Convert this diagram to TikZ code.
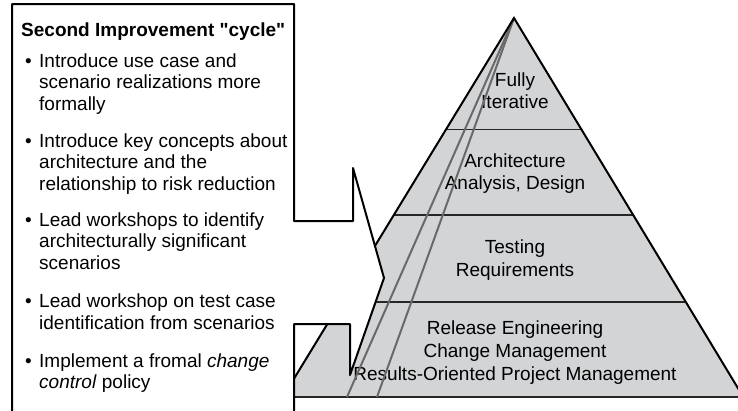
\documentclass[tikz,border=0pt]{standalone}
\usepackage{fontspec}
\setmainfont{Liberation Sans}[Ligatures=TeXOff]
\definecolor{pyrfill}{RGB}{211,212,214}
\definecolor{raygray}{RGB}{105,105,105}
\begin{document}
\begin{tikzpicture}[x=1pt,y=-1pt,
  outline/.style={line width=2pt,line join=round},
  tierline/.style={line width=1.6pt,draw=black!85},
  ray/.style={draw=raygray,line width=2pt},
  ptext/.style={anchor=base,inner sep=0pt,font=\fontsize{19}{21.5}\selectfont},
  ltext/.style={anchor=base west,inner sep=0pt,font=\fontsize{19}{21.5}\selectfont},
]
\useasboundingbox (0,0) rectangle (738,410);
\clip (0,0) rectangle (738,410);
% pyramid
\coordinate (apex) at (514,18);
\coordinate (bl) at (282.8,397);
\coordinate (br) at (743.3,397);
\fill[pyrfill] (apex) -- (bl) -- (br) -- cycle;
% pyramid texts
\node[ptext] (t1a) at (515,86) {Fully};
\node[ptext] (t1b) at (515,108) {Iterative};
\node[ptext] (t2a) at (515,167) {Architecture};
\node[ptext] (t2b) at (515,189) {Analysis, Design};
\node[ptext] (t3a) at (515,253) {Testing};
\node[ptext] (t3b) at (515,276) {Requirements};
\node[ptext] (t4a) at (515,334) {Release Engineering};
\node[ptext] (t4b) at (515,357) {Change Management};
\node[ptext] (t4c) at (515,380) {Results-Oriented Project Management};
% tier lines
\draw[tierline] (446,129.5) -- (581.5,129.5);
\draw[tierline] (393.8,215) -- (633.2,215);
\draw[tierline] (340.8,302) -- (685.8,302);
\draw[tierline] (bl) -- (br);
% rays
\coordinate (rayA) at (347,397);
\coordinate (rayB) at (377,397);
\draw[ray] (apex) -- (rayA);
\draw[ray] (apex) -- (rayB);
% pyramid sides
\draw[outline,line join=miter] (bl) -- (apex) -- (br);
% callout
\filldraw[fill=white,outline] (12,4) -- (294,4) -- (294,221) -- (353,221) -- (353,168)
  -- (384,278) -- (350,375) -- (350,324) -- (294,324) -- (294,440) -- (12,440) -- cycle;
% left texts
\node[ltext,font=\fontsize{19}{21.5}\selectfont\bfseries] (title) at (21,36) {Second Improvement "cycle"};
\node[ltext] (b1) at (25,67) {•};
\node[ltext] (l1a) at (39,67) {Introduce use case and};
\node[ltext] (l1b) at (39,88.5) {scenario realizations more};
\node[ltext] (l1c) at (39,110) {formally};
\node[ltext] (b2) at (25,147) {•};
\node[ltext] (l2a) at (39,147) {Introduce key concepts about};
\node[ltext] (l2b) at (39,168.5) {architecture and the};
\node[ltext] (l2c) at (39,190) {relationship to risk reduction};
\node[ltext] (b3) at (25,226) {•};
\node[ltext] (l3a) at (39,226) {Lead workshops to identify};
\node[ltext] (l3b) at (39,247.5) {architecturally significant};
\node[ltext] (l3c) at (39,269) {scenarios};
\node[ltext] (b4) at (25,307) {•};
\node[ltext] (l4a) at (39,307) {Lead workshop on test case};
\node[ltext] (l4b) at (39,329) {identification from scenarios};
\node[ltext] (b5) at (25,367) {•};
\node[ltext] (l5a) at (39,367) {Implement a fromal \textit{change}};
\node[ltext] (l5b) at (39,388.5) {\textit{control} policy};
\end{tikzpicture}
\end{document}
